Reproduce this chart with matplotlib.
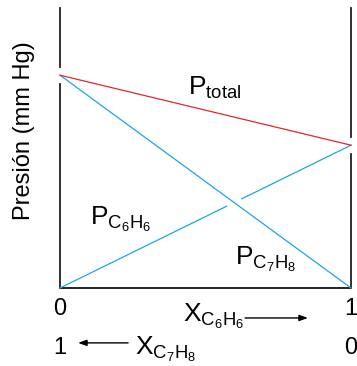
import matplotlib
matplotlib.use('Agg')
import matplotlib.pyplot as plt

plt.rcParams['font.family'] = ['Liberation Sans', 'DejaVu Sans']
plt.rcParams['mathtext.fontset'] = 'custom'
plt.rcParams['mathtext.rm'] = 'Liberation Sans'
plt.rcParams['mathtext.it'] = 'Liberation Sans:italic'

# mole fraction of benzene at both ends of the diagram
x_benz = [0, 1]
x_tol_labels = ['1', '0']
x_benz_labels = ['0', '1']
# partial pressures (arbitrary units)
p_benz = [0, 51]
p_tol = [76, 0]
p_total = [76, 51]
y_top = 100

red = '#e62330'
blue = '#1ba6e3'

fig = plt.figure(figsize=(3.57, 3.66), dpi=100)
ax = fig.add_axes([60 / 357, 1 - 288 / 366, 291 / 357, 280 / 366])
ax.set_xlim(0, 1)
ax.set_ylim(0, y_top)
for s in ax.spines.values():
    s.set_visible(False)
ax.set_xticks([])
ax.set_yticks([])

# frame: bottom line and the two vertical lines, broken where the curves meet them
g = 3.0
ax.plot([0, 1], [0, 0], color='#222222', lw=1.4, solid_capstyle='butt', clip_on=False)
ax.plot([0, 0], [0, p_tol[0] - g], color='#222222', lw=1.3, clip_on=False)
ax.plot([0, 0], [p_tol[0] + g, y_top], color='#222222', lw=1.3, clip_on=False)
ax.plot([1, 1], [0, p_benz[1] - g], color='#222222', lw=1.3, clip_on=False)
ax.plot([1, 1], [p_benz[1] + g, y_top], color='#222222', lw=1.3, clip_on=False)

# benzene line is broken where it passes under the toluene line
xi = p_tol[0] / (p_tol[0] + p_benz[1])
dx = 0.026
k = p_benz[1] / x_benz[1]
ax.plot([x_benz[0], xi - dx], [p_benz[0], k * (xi - dx)], color=blue, lw=0.9, clip_on=False)
ax.plot([xi + dx, x_benz[1]], [k * (xi + dx), p_benz[1]], color=blue, lw=0.9, clip_on=False)
ax.plot(x_benz, p_tol, color=blue, lw=0.9, clip_on=False)
ax.plot(x_benz, p_total, color=red, lw=0.9, clip_on=False)

fs = 19
ax.text(0.44, 69, r'$\mathrm{P}_{\mathrm{total}}$', fontsize=fs, va='baseline')
ax.text(0.103, 22.5, r'$\mathrm{P}_{\mathrm{C_6H_6}}$', fontsize=fs, va='baseline')
ax.text(0.601, 8.2, r'$\mathrm{P}_{\mathrm{C_7H_8}}$', fontsize=fs, va='baseline')

ax.text(-0.124, 0.561, 'Presión (mm Hg)', fontsize=17, rotation=90,
        ha='center', va='center', transform=ax.transAxes)

tr = ax.get_xaxis_transform()
for xv, lab in zip(x_benz, x_benz_labels):
    ax.text(xv, -0.096, lab, fontsize=17, ha='center', va='baseline', transform=tr)
for xv, lab in zip(x_benz, x_tol_labels):
    ax.text(xv, -0.236, lab, fontsize=17, ha='center', va='baseline', transform=tr)

ax.text(0.423, -0.121, r'$\mathrm{X}_{\mathrm{C_6H_6}}$', fontsize=fs, va='baseline',
        transform=ax.transAxes)
ax.text(0.258, -0.239, r'$\mathrm{X}_{\mathrm{C_7H_8}}$', fontsize=fs, va='baseline',
        transform=ax.transAxes)

arrow = dict(arrowstyle='-|>,head_length=0.5,head_width=0.18', color='black', lw=1.0,
             shrinkA=0, shrinkB=0)
ax.annotate('', xy=(0.852, -0.107), xytext=(0.636, -0.107), xycoords='axes fraction',
            arrowprops=arrow, annotation_clip=False)
ax.annotate('', xy=(0.062, -0.196), xytext=(0.234, -0.196), xycoords='axes fraction',
            arrowprops=arrow, annotation_clip=False)

fig.savefig('out.png', dpi=100)
